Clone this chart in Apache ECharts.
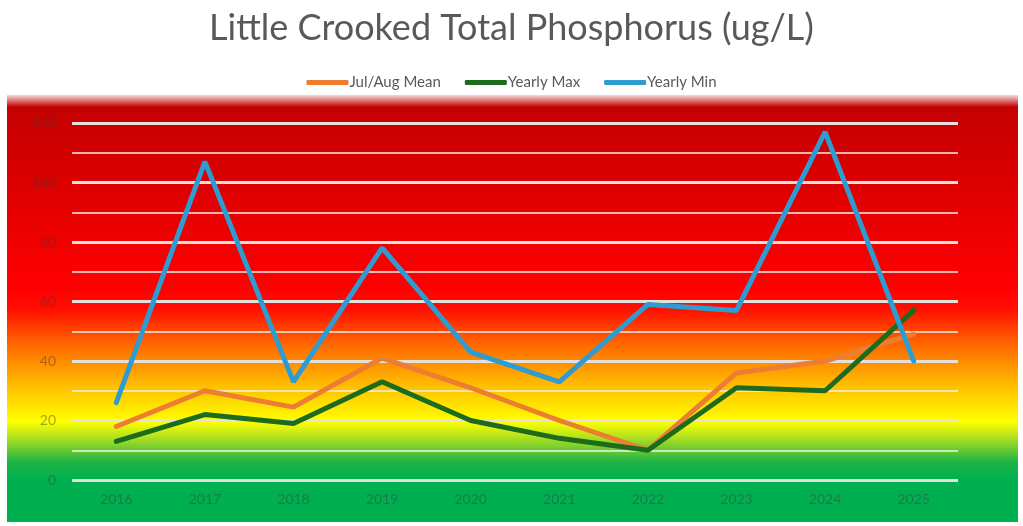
<!DOCTYPE html>
<html>
<head>
<meta charset="utf-8">
<script src="https://cdn.jsdelivr.net/npm/echarts@6/dist/echarts.min.js"></script>
<style>
html,body{margin:0;padding:0;background:#fff;}
#chart{width:1023px;height:526px;}
</style>
</head>
<body>
<div id="chart"></div>
<script>
var years = ['2016','2017','2018','2019','2020','2021','2022','2023','2024','2025'];
var julAugMean = [18, 30, 24.5, 41, 31, 20, 10, 36, 40, 49];
var yearlyMax = [13, 22, 19, 33, 20, 14, 10, 31, 30, 57];
var yearlyMin = [26, 107, 33, 78, 43, 33, 59, 57, 117, 40];

var chart = echarts.init(document.getElementById('chart'));
var labelColor = 'rgba(60,60,60,0.45)';
chart.setOption({
  animation: false,
  backgroundColor: '#ffffff',
  graphic: [
    {
      type: 'rect', z: -10, silent: true,
      shape: {x: 7, y: 95, width: 1011, height: 427},
      style: {
        fill: new echarts.graphic.LinearGradient(0, 0, 0, 1, [
          {offset: 0, color: '#C00000'},
          {offset: 0.45, color: '#FF0000'},
          {offset: 0.50, color: '#FF0D00'},
          {offset: 0.58, color: '#FF6400'},
          {offset: 0.68, color: '#FFBE00'},
          {offset: 0.765, color: '#FFFF00'},
          {offset: 0.80, color: '#B4E21E'},
          {offset: 0.86, color: '#1EB446'},
          {offset: 0.90, color: '#00B050'},
          {offset: 1, color: '#00B050'}
        ])
      }
    },
    {
      type: 'rect', z: -9, silent: true,
      shape: {x: 7, y: 93, width: 1011, height: 14},
      style: {
        fill: new echarts.graphic.LinearGradient(0, 0, 0, 1, [
          {offset: 0, color: 'rgba(255,255,255,1)'},
          {offset: 1, color: 'rgba(255,255,255,0)'}
        ])
      }
    }
  ],
  title: {
    text: 'Little Crooked Total Phosphorus (ug/L)',
    left: 'center',
    top: 5,
    textStyle: {fontFamily: 'Lato', fontWeight: 'normal', fontSize: 36, color: '#595959'}
  },
  legend: {
    top: 70,
    left: 'center',
    itemWidth: 42,
    itemHeight: 5,
    itemGap: 24,
    icon: 'roundRect',
    textStyle: {fontFamily: 'Lato', fontSize: 15, color: '#595959', padding: [0,0,0,-4]},
    data: ['Jul/Aug Mean', 'Yearly Max', 'Yearly Min']
  },
  grid: {left: 72, right: 65, top: 123, bottom: 46},
  xAxis: {
    type: 'category',
    data: years,
    boundaryGap: true,
    axisLine: {show: false},
    axisTick: {show: false},
    axisLabel: {color: labelColor, fontSize: 14, fontFamily: 'Lato', margin: 12}
  },
  yAxis: {
    type: 'value',
    min: 0, max: 120, interval: 20,
    axisLine: {show: false},
    axisTick: {show: false},
    axisLabel: {color: labelColor, fontSize: 14, fontFamily: 'Lato', margin: 16},
    splitLine: {lineStyle: {color: '#E6E0DC', width: 3}},
    minorTick: {show: false, splitNumber: 2},
    minorSplitLine: {show: true, lineStyle: {color: '#F5F0EC', width: 1.5}}
  },
  series: [
    {name: 'Jul/Aug Mean', type: 'line', data: julAugMean, symbol: 'none',
     lineStyle: {width: 5, color: '#ED7D31', cap: 'round'}, itemStyle: {color: '#ED7D31'}},
    {name: 'Yearly Max', type: 'line', data: yearlyMax, symbol: 'none',
     lineStyle: {width: 5, color: '#1D6B1D', cap: 'round'}, itemStyle: {color: '#1D6B1D'}},
    {name: 'Yearly Min', type: 'line', data: yearlyMin, symbol: 'none',
     lineStyle: {width: 5, color: '#2E9CD0', cap: 'round'}, itemStyle: {color: '#2E9CD0'}}
  ]
});
</script>
</body>
</html>
